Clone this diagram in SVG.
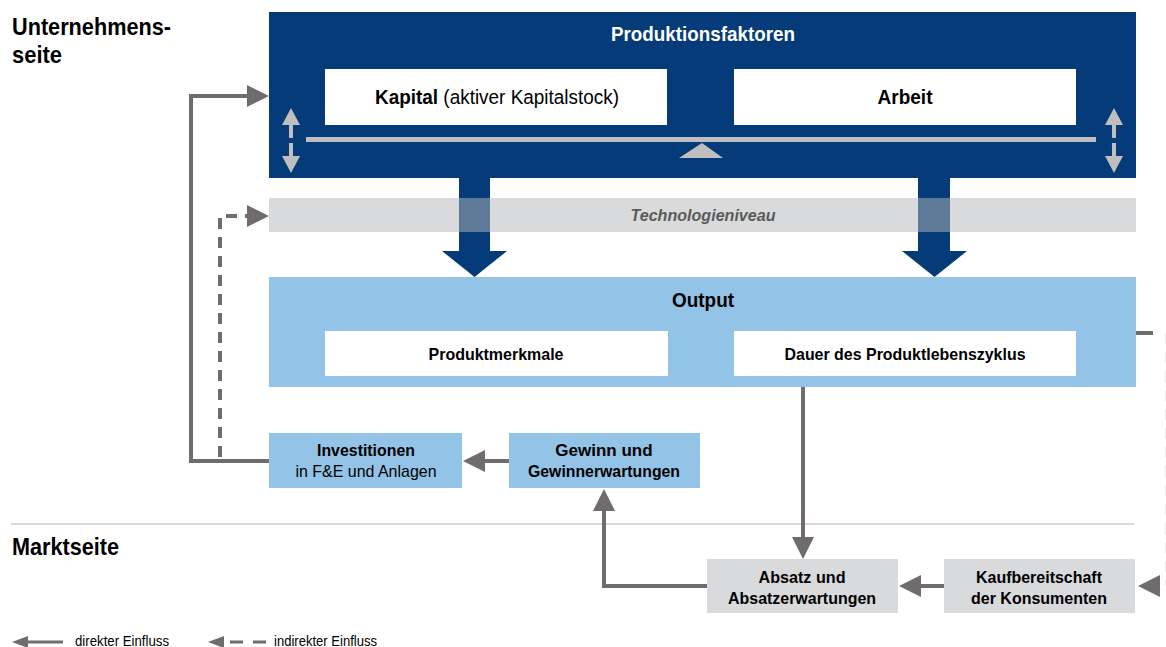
<svg xmlns="http://www.w3.org/2000/svg" width="1166" height="647" viewBox="0 0 1166 647">
<defs>
<style>
text{font-family:"Liberation Sans",Arial,sans-serif;fill:#000}
.b{font-weight:bold}
.side{font-size:24px;font-weight:bold}
.dark{fill:#043b78}
.light{fill:#93c3e6}
.grey{fill:#d9dadb}
.white{fill:#ffffff}
.bal{fill:#bfbfbf}
.con{fill:none;stroke:#706c6c;stroke-width:4}
.dash{stroke-dasharray:11 8}
.mid{text-anchor:middle}
</style>
<marker id="ah" viewBox="0 0 22 22" markerWidth="22" markerHeight="22" markerUnits="userSpaceOnUse" refX="1" refY="11" orient="auto">
<path d="M0,0 L22,11 L0,22 z" fill="#706c6c"/>
</marker>
<marker id="ahs" viewBox="0 0 16 12" markerWidth="16" markerHeight="12" markerUnits="userSpaceOnUse" refX="1" refY="6" orient="auto">
<path d="M0,0 L16,6 L0,12 z" fill="#706c6c"/>
</marker>
</defs>
<rect width="1166" height="647" fill="#ffffff"/>

<g id="labels">
<text class="side" x="12" y="35" textLength="159" lengthAdjust="spacingAndGlyphs">Unternehmens-</text>
<text class="side" x="12" y="63" textLength="50" lengthAdjust="spacingAndGlyphs">seite</text>
<text class="side" x="12" y="555" textLength="107" lengthAdjust="spacingAndGlyphs">Marktseite</text>
<line x1="11" y1="524" x2="1134" y2="524" stroke="#ddd7d4" stroke-width="2"/>
</g>

<g id="produktionsfaktoren">
<rect class="dark" x="269" y="12" width="867" height="166"/>
<text class="b mid" x="703" y="41" style="fill:#fff;font-size:20.5px" textLength="184" lengthAdjust="spacingAndGlyphs">Produktionsfaktoren</text>
<rect x="306" y="137" width="790" height="5" class="bal"/>
<path class="bal" d="M702,143 L723,158 L679,158 z"/>
<g class="bal">
<path d="M291,108 L300,125 L293,125 L293,138 L289,138 L289,125 L282,125 z"/>
<path d="M291,173 L300,156 L293,156 L293,143 L289,143 L289,156 L282,156 z"/>
<path d="M1114,108 L1123,125 L1116,125 L1116,138 L1112,138 L1112,125 L1105,125 z"/>
<path d="M1114,173 L1123,156 L1116,156 L1116,143 L1112,143 L1112,156 L1105,156 z"/>
</g>
</g>

<g id="kapital">
<rect class="white" x="325" y="69" width="342" height="56"/>
<text class="mid" x="497" y="104" style="font-size:20.5px" textLength="244" lengthAdjust="spacingAndGlyphs"><tspan class="b">Kapital</tspan> (aktiver Kapitalstock)</text>
</g>

<g id="arbeit">
<rect class="white" x="734" y="69" width="342" height="56"/>
<text class="b mid" x="905" y="104" style="font-size:20.5px" textLength="55" lengthAdjust="spacingAndGlyphs">Arbeit</text>
</g>

<g id="technologieniveau">
<rect class="grey" x="269" y="198" width="867" height="34"/>
<text class="b mid" x="703" y="221" style="font-size:17px;font-style:italic;fill:#5a5a5a" textLength="145" lengthAdjust="spacingAndGlyphs">Technologieniveau</text>
</g>

<g id="output">
<rect class="light" x="269" y="277" width="867" height="110"/>
<text class="b mid" x="703" y="307" style="font-size:20.5px" textLength="62" lengthAdjust="spacingAndGlyphs">Output</text>
</g>

<g id="produktmerkmale">
<rect class="white" x="325" y="331" width="343" height="45"/>
<text class="b mid" x="496" y="360" style="font-size:17px" textLength="135" lengthAdjust="spacingAndGlyphs">Produktmerkmale</text>
</g>

<g id="dauer">
<rect class="white" x="734" y="331" width="342" height="45"/>
<text class="b mid" x="905" y="360" style="font-size:17px" textLength="241" lengthAdjust="spacingAndGlyphs">Dauer des Produktlebenszyklus</text>
</g>

<g id="investitionen">
<rect class="light" x="269" y="433" width="193" height="55"/>
<text class="b mid" x="366" y="456" style="font-size:17px" textLength="98" lengthAdjust="spacingAndGlyphs">Investitionen</text>
<text class="mid" x="366" y="477" style="font-size:17px" textLength="141" lengthAdjust="spacingAndGlyphs">in F&amp;E und Anlagen</text>
</g>

<g id="gewinn">
<rect class="light" x="509" y="433" width="191" height="55"/>
<text class="b mid" x="604" y="456" style="font-size:17px">Gewinn und</text>
<text class="b mid" x="604" y="477" style="font-size:17px" textLength="152" lengthAdjust="spacingAndGlyphs">Gewinnerwartungen</text>
</g>

<g id="absatz">
<rect class="grey" x="707" y="559" width="191" height="54"/>
<text class="b mid" x="802" y="583" style="font-size:17px" textLength="87" lengthAdjust="spacingAndGlyphs">Absatz und</text>
<text class="b mid" x="802" y="604" style="font-size:17px" textLength="148" lengthAdjust="spacingAndGlyphs">Absatzerwartungen</text>
</g>

<g id="kaufbereitschaft">
<rect class="grey" x="944" y="559" width="191" height="54"/>
<text class="b mid" x="1039" y="583" style="font-size:17px" textLength="126" lengthAdjust="spacingAndGlyphs">Kaufbereitschaft</text>
<text class="b mid" x="1039" y="604" style="font-size:17px" textLength="136" lengthAdjust="spacingAndGlyphs">der Konsumenten</text>
</g>

<g id="connectors">
<path class="dark" d="M459,178 H490 V251 H507 L474.5,277 L442,251 H459 z"/>
<path class="dark" d="M918,178 H950 V251 H967 L934.5,277 L902,251 H918 z"/>
<rect x="459" y="198" width="31" height="34" fill="#5f7a99"/>
<rect x="918" y="198" width="32" height="34" fill="#5f7a99"/>
<path class="con" d="M269,461 H191 V96 H248" marker-end="url(#ah)"/>
<path class="con dash" d="M220,457 V216 H248" marker-end="url(#ah)"/>
<path class="con" d="M509,461 H484" marker-end="url(#ah)"/>
<path class="con" d="M803,387 V538" marker-end="url(#ah)"/>
<path class="con" d="M707,586 H604 V510" marker-end="url(#ah)"/>
<path class="con" d="M944,586 H920" marker-end="url(#ah)"/>
<path class="con" d="M1136,333 H1153"/>
<path class="con dash" d="M1167,333 V586" stroke-opacity="0.12"/>
<path d="M1138,586 L1160,575 L1160,597 z" fill="#706c6c"/>
</g>

<g id="legend">
<path class="con" style="stroke-width:3" d="M63,642 H27" marker-end="url(#ahs)"/>
<text x="75" y="646" style="font-size:14px" textLength="94" lengthAdjust="spacingAndGlyphs">direkter Einfluss</text>
<path d="M208,642 L224,636 L224,648 z" fill="#706c6c"/>
<path class="con" style="stroke-width:3;stroke-dasharray:13 10" d="M230,642 H267"/>
<text x="274" y="646" style="font-size:14px" textLength="103" lengthAdjust="spacingAndGlyphs">indirekter Einfluss</text>
</g>
</svg>
